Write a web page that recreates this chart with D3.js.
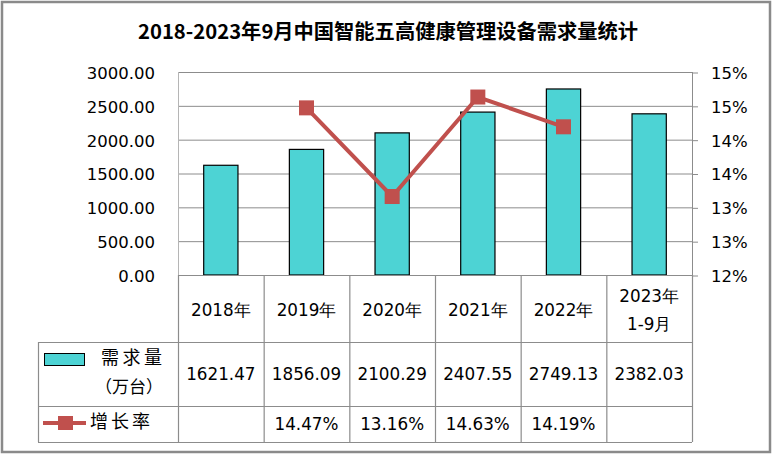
<!DOCTYPE html>
<html><head><meta charset="utf-8">
<script src="https://cdn.jsdelivr.net/npm/d3@7/dist/d3.min.js"></script>
<style>body{margin:0;background:#fff}svg{display:block}</style>
</head><body>
<script>
const categories = ["2018年","2019年","2020年","2021年","2022年","2023年\n1-9月"];
const demand = [1621.47,1856.09,2100.29,2407.55,2749.13,2382.03];
const growth = [null,14.47,13.16,14.63,14.19,null];
const leftTicks = [0,500,1000,1500,2000,2500,3000];
const rightTicks = [12,12.5,13,13.5,14,14.5,15];
const rightTickLabels = ["12%","13%","13%","14%","14%","15%","15%"];
const title = "2018-2023年9月中国智能五高健康管理设备需求量统计";
const seriesNames = ["需求量","（万台）","增长率"];

const W=774,H=456;
const px0=178, px1=692, pyTop=72, pyBot=275;
const tLeft=38, r1=342, r2=406, r3=442;
const barColor="#4DD3D4", lineColor="#C0504D", gridColor="#8c8c8c";
const numFont="'DejaVu Sans', Verdana, sans-serif";
const cjkFont="'Noto Sans CJK SC', sans-serif";

const svg=d3.select("body").append("svg").attr("width",W).attr("height",H);
svg.append("rect").attr("width",W).attr("height",H).attr("fill","#fff");
svg.append("rect").attr("x",2).attr("y",2).attr("width",768).attr("height",450)
  .attr("fill","none").attr("stroke","#8a8a8a").attr("stroke-width",2.5);

svg.append("text").attr("x",388).attr("y",39).attr("text-anchor","middle")
  .attr("font-family",cjkFont).attr("font-weight",700).attr("font-size",20)
  .attr("textLength",500).attr("lengthAdjust","spacingAndGlyphs").text(title);

const x=d3.scaleBand().domain(d3.range(categories.length)).range([px0,px1]).padding(0);
const yL=d3.scaleLinear().domain([0,3000]).range([pyBot,pyTop]);
const yR=d3.scaleLinear().domain([12,15]).range([pyBot,pyTop]);

// gridlines
svg.append("g").selectAll("line").data(leftTicks).join("line")
  .attr("x1",px0).attr("x2",px1).attr("y1",d=>yL(d)+0.5).attr("y2",d=>yL(d)+0.5)
  .attr("stroke",gridColor).attr("stroke-width",1);

// left axis
const gL=svg.append("g").attr("transform",`translate(${px0},0.5)`)
  .call(d3.axisLeft(yL).tickValues(leftTicks).tickFormat(d3.format(".2f")).tickSize(0).tickPadding(23));
gL.select(".domain").remove();
gL.selectAll("text").attr("font-family",numFont).attr("font-size",16.5).attr("fill","#000").attr("dy","0.36em");

// right axis
const gR=svg.append("g").attr("transform",`translate(${px1},0.5)`)
  .call(d3.axisRight(yR).tickValues(rightTicks).tickFormat((d,i)=>rightTickLabels[i]).tickSize(6).tickPadding(13));
gR.select(".domain").remove();
gR.selectAll("line").attr("stroke",gridColor);
gR.selectAll("text").attr("font-family",numFont).attr("font-size",16.5).attr("fill","#000").attr("dy","0.36em");

// axis verticals
svg.append("line").attr("x1",px0+0.5).attr("x2",px0+0.5).attr("y1",pyTop).attr("y2",pyBot).attr("stroke","#b5b5b5");
svg.append("line").attr("x1",px1+0.5).attr("x2",px1+0.5).attr("y1",pyTop).attr("y2",pyBot).attr("stroke",gridColor);

// bars
const bw=x.bandwidth()*0.4;
svg.append("g").selectAll("rect").data(demand).join("rect")
  .attr("x",(d,i)=>x(i)+x.bandwidth()/2-bw/2).attr("width",bw)
  .attr("y",d=>yL(d)).attr("height",d=>yL(0)-yL(d))
  .attr("fill",barColor).attr("stroke","#000").attr("stroke-width",1.2);

// table lines
const tg=svg.append("g").attr("stroke",gridColor).attr("stroke-width",1.2);
tg.append("line").attr("x1",px0).attr("x2",px1).attr("y1",pyBot+0.5).attr("y2",pyBot+0.5);
[r1,r2,r3].forEach(y=>tg.append("line").attr("x1",tLeft).attr("x2",px1).attr("y1",y+0.5).attr("y2",y+0.5));
tg.append("line").attr("x1",tLeft+0.5).attr("x2",tLeft+0.5).attr("y1",r1).attr("y2",r3);
d3.range(categories.length+1).forEach(i=>{
  const xx=i<categories.length?x(i):px1;
  tg.append("line").attr("x1",xx+0.5).attr("x2",xx+0.5).attr("y1",pyBot).attr("y2",r3);
});

// line
const pts=growth.map((g,i)=>({g,i})).filter(d=>d.g!=null);
svg.append("path").datum(pts)
  .attr("d",d3.line().x(d=>x(d.i)+x.bandwidth()/2).y(d=>yR(d.g)))
  .attr("fill","none").attr("stroke",lineColor).attr("stroke-width",4);
svg.append("g").selectAll("rect").data(pts).join("rect")
  .attr("x",d=>x(d.i)+x.bandwidth()/2-7.5).attr("y",d=>yR(d.g)-7.5)
  .attr("width",15).attr("height",15).attr("fill",lineColor);

// category labels
categories.forEach((c,i)=>{
  const lines=c.split("\n");
  const cx=x(i)+x.bandwidth()/2;
  const cy=(pyBot+r1)/2+1;
  lines.forEach((l,j)=>{
    svg.append("text").attr("x",cx).attr("y",cy+(j-(lines.length-1)/2)*28)
      .attr("dy","0.36em").attr("text-anchor","middle")
      .attr("font-family",numFont).attr("font-size",16.8).text(l);
  });
});
// values
demand.forEach((v,i)=>{
  svg.append("text").attr("x",x(i)+x.bandwidth()/2).attr("y",374).attr("dy","0.36em")
    .attr("text-anchor","middle").attr("font-family",numFont).attr("font-size",16.8).text(d3.format(".2f")(v));
});
growth.forEach((v,i)=>{
  if(v==null)return;
  svg.append("text").attr("x",x(i)+x.bandwidth()/2).attr("y",424).attr("dy","0.36em")
    .attr("text-anchor","middle").attr("font-family",numFont).attr("font-size",16.8).text(d3.format(".2f")(v)+"%");
});

// legend cells
svg.append("rect").attr("x",44.5).attr("y",353.5).attr("width",40).attr("height",12)
  .attr("fill",barColor).attr("stroke","#000").attr("stroke-width",1);
svg.append("text").attr("x",101).attr("y",358).attr("dy","0.36em").attr("font-family",cjkFont)
  .attr("font-size",18).attr("textLength",61).attr("lengthAdjust","spacing").text(seriesNames[0]);
svg.append("text").attr("x",95).attr("y",387).attr("dy","0.36em").attr("font-family",cjkFont)
  .attr("font-size",17).attr("textLength",68).attr("lengthAdjust","spacingAndGlyphs").text(seriesNames[1]);
svg.append("line").attr("x1",43).attr("x2",86).attr("y1",423).attr("y2",423)
  .attr("stroke",lineColor).attr("stroke-width",4);
svg.append("rect").attr("x",58).attr("y",416).attr("width",15).attr("height",14).attr("fill",lineColor);
svg.append("text").attr("x",90).attr("y",422).attr("dy","0.36em").attr("font-family",cjkFont)
  .attr("font-size",18).attr("textLength",60).attr("lengthAdjust","spacing").text(seriesNames[2]);
</script>
</body></html>
